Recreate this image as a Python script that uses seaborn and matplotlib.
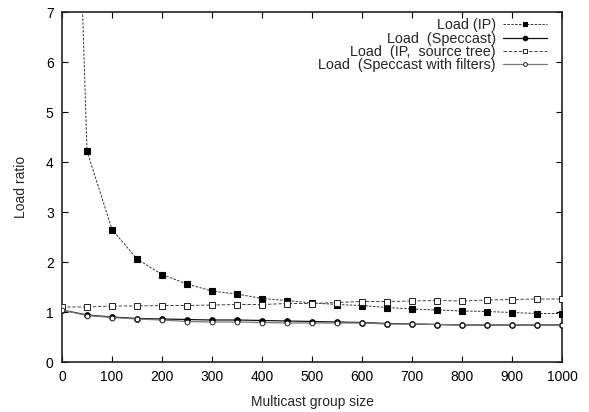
import matplotlib
matplotlib.use("Agg")
import matplotlib.pyplot as plt
import seaborn as sns
import pandas as pd
import numpy as np

group_size = [0, 50, 100, 150, 200, 250, 300, 350, 400, 450, 500,
              550, 600, 650, 700, 750, 800, 850, 900, 950, 1000]
load_ip = [20.0, 4.22, 2.65, 2.06, 1.75, 1.56, 1.42, 1.36, 1.27, 1.23, 1.18,
           1.15, 1.13, 1.09, 1.06, 1.04, 1.02, 1.01, 0.99, 0.97, 0.97]
load_speccast = [1.04, 0.94, 0.90, 0.87, 0.86, 0.85, 0.84, 0.84, 0.83, 0.82, 0.81,
                 0.80, 0.79, 0.77, 0.76, 0.75, 0.74, 0.74, 0.74, 0.74, 0.74]
load_ip_tree = [1.10, 1.10, 1.12, 1.12, 1.13, 1.13, 1.14, 1.15, 1.15, 1.17, 1.17,
                1.19, 1.21, 1.21, 1.22, 1.23, 1.22, 1.24, 1.25, 1.26, 1.26]
load_filters = [1.04, 0.93, 0.89, 0.86, 0.84, 0.81, 0.80, 0.80, 0.79, 0.78, 0.78,
                0.78, 0.78, 0.76, 0.76, 0.75, 0.74, 0.74, 0.74, 0.74, 0.74]

labels = ["Load (IP)", "Load  (Speccast)", "Load  (IP,  source tree)",
          "Load  (Speccast with filters)"]
y_ticks = [0, 1, 2, 3, 4, 5, 6, 7]
x_ticks = [0, 100, 200, 300, 400, 500, 600, 700, 800, 900, 1000]

sns.set_style("ticks")
plt.rcParams['font.family'] = ['Liberation Sans', 'DejaVu Sans']

fig = plt.figure(figsize=(5.89, 4.12), dpi=100)
ax = fig.add_axes([62/589, 50/412, 500/589, 350/412])

styles = [
    dict(marker='s', color='#333333', mfc='black', mec='black', ms=4.0, dashes=(2.5, 1.5), lw=0.7),
    dict(marker='o', color='#111111', mfc='black', mec='black', ms=4.0, dashes=(None, None), lw=0.9),
    dict(marker='s', color='#444444', mfc='white', mec='#222222', ms=4.0, dashes=(3.5, 1.8), lw=0.7, mew=0.7),
    dict(marker='o', color='#777777', mfc='white', mec='#222222', ms=3.4, dashes=(None, None), lw=0.9, mew=0.7),
]
series = [load_ip, load_speccast, load_ip_tree, load_filters]

for vals, lab, st in zip(series, labels, styles):
    df = pd.DataFrame({"x": group_size, "y": vals})
    st = dict(st)
    dsh = st.pop("dashes")
    sns.lineplot(data=df, x="x", y="y", ax=ax, label=lab, color=st.pop("color"),
                 marker=st.pop("marker"), markerfacecolor=st.pop("mfc"),
                 markeredgecolor=st.pop("mec"), markersize=st.pop("ms"),
                 linewidth=st.pop("lw"), markeredgewidth=st.pop("mew", 0.8),
                 zorder=3)
    l = ax.get_lines()[-1]
    if dsh[0] is not None:
        l.set_dashes(dsh)

ax.set_xlim(0, 1000)
ax.set_ylim(0, 7)
ax.set_xticks(x_ticks)
ax.set_yticks(y_ticks)
ax.tick_params(direction='in', top=True, right=True, length=4, width=0.8,
               labelsize=10, colors='black', pad=6)
for sp in ax.spines.values():
    sp.set_visible(True)
    sp.set_linewidth(1.2)
    sp.set_color('#222222')

ax.set_xlabel("Multicast group size", fontsize=10, labelpad=8)
ax.set_ylabel("Load ratio", fontsize=10, labelpad=13)

leg = ax.legend(loc='upper right', markerfirst=False, frameon=False, fontsize=10.4,
                handlelength=3.0, handletextpad=0.5, labelspacing=-0.05,
                borderaxespad=0.05, bbox_to_anchor=(0.982, 1.0), markerscale=0.8)
for col in leg._legend_handle_box.get_children():
    col.align = 'right'

fig.savefig("out.png", dpi=100)
